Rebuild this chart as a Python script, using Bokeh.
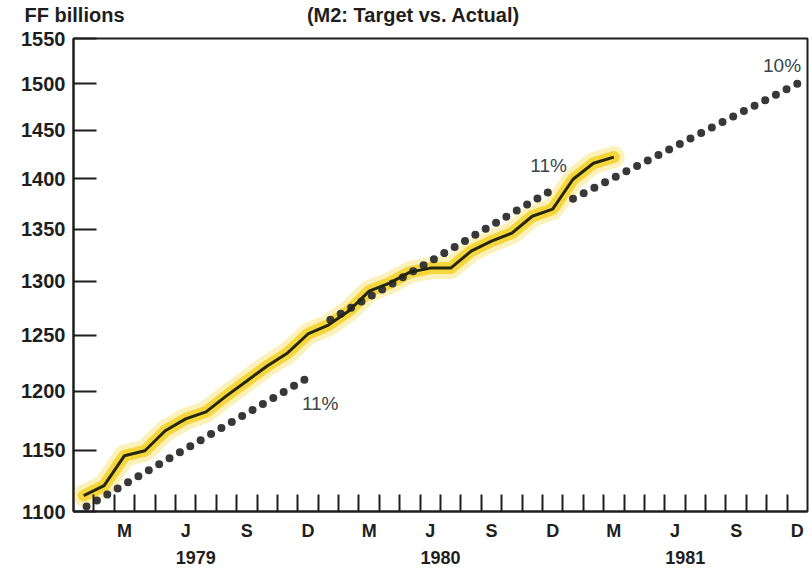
from bokeh.plotting import figure
from bokeh.models import LinearAxis, FixedTicker, Label, Range1d
from bokeh.embed import file_html
from bokeh.resources import INLINE

# ---------------- data ----------------
years = ["1979", "1980", "1981"]
quarter_month_labels = ["M", "J", "S", "D"]          # Mar, Jun, Sep, Dec
quarter_month_index = [2, 5, 8, 11]                  # month index within the year
y_ticks = [1100, 1150, 1200, 1250, 1300, 1350, 1400, 1450, 1500, 1550]

# actual M2, monthly, Jan 1979 .. Mar 1981 (FF billions)
actual_values = [1112.7, 1120.8, 1145.4, 1149.5, 1166.3, 1176.4, 1182.4, 1196.2,
                 1209.2, 1222.4, 1234.0, 1251.1,
                 1259.2, 1272.1, 1290.6, 1298.1, 1308.5, 1312.3, 1312.3, 1328.5,
                 1338.2, 1346.0, 1362.6, 1369.6,
                 1399.6, 1416.0, 1422.3]
actual_months = list(range(len(actual_values)))       # 0 = Jan 1979

# target corridors (start / end of each dotted line)
target_1979_x = [0.14, 11.0]
target_1979_y = [1104, 1212]
target_1980_x = [12.1, 22.9]
target_1980_y = [1264, 1388]
target_1981_x = [24.0, 35.0]
target_1981_y = [1380, 1500]
target_labels = ["11%", "11%", "10%"]

unit_text = "FF billions"
title_text = "(M2: Target vs. Actual)"

# ---------------- figure ----------------
FONT = "Liberation Sans"
INK = "#1e1e1e"

p = figure(width=812, height=575, output_backend="svg", toolbar_location=None,
           x_range=Range1d(-0.5, 35.5), y_range=Range1d(1100, 1550),
           y_axis_type="log", x_axis_type=None,
           min_border_left=73, min_border_right=5, min_border_top=37,
           min_border_bottom=64)
p.background_fill_color = "white"
p.border_fill_color = "white"
p.outline_line_color = INK
p.outline_line_width = 2
for g in p.grid:
    g.grid_line_color = None

# y axis
ya = p.yaxis[0]
ya.ticker = FixedTicker(ticks=y_ticks, minor_ticks=[])
ya.major_label_overrides = {v: str(v) for v in y_ticks}
ya.major_tick_in = 23
ya.major_tick_out = 0
ya.major_tick_line_width = 2
ya.major_tick_line_color = INK
ya.minor_tick_line_color = None
ya.axis_line_width = 2
ya.axis_line_color = INK
ya.major_label_standoff = 8
ya.major_label_text_font = FONT
ya.major_label_text_font_style = "bold"
ya.major_label_text_font_size = "20px"
ya.major_label_text_color = INK

# x axis: month ticks + quarter month letters
major_x = []
overrides = {}
for yi in range(len(years)):
    for lab, mi in zip(quarter_month_labels, quarter_month_index):
        t = yi * 12 + mi
        major_x.append(t)
        overrides[t] = lab
minor_x = [i + 0.5 for i in range(35)]

xa = LinearAxis(ticker=FixedTicker(ticks=major_x, minor_ticks=minor_x))
xa.major_label_overrides = overrides
xa.major_tick_line_color = None
xa.major_tick_in = 0
xa.major_tick_out = 0
xa.minor_tick_in = 17
xa.minor_tick_out = 0
xa.minor_tick_line_width = 2
xa.minor_tick_line_color = INK
xa.axis_line_width = 2
xa.axis_line_color = INK
xa.major_label_standoff = 9
xa.major_label_text_font = FONT
xa.major_label_text_font_style = "bold"
xa.major_label_text_font_size = "18px"
xa.major_label_text_color = INK
p.add_layout(xa, "below")

# year axis
year_ticks = [yi * 12 + 5.5 for yi in range(len(years))]
ya2 = LinearAxis(ticker=FixedTicker(ticks=year_ticks, minor_ticks=[]))
ya2.major_label_overrides = {t: y for t, y in zip(year_ticks, years)}
ya2.axis_line_color = None
ya2.major_tick_line_color = None
ya2.minor_tick_line_color = None
ya2.major_tick_in = 0
ya2.major_tick_out = 0
ya2.major_label_standoff = 7
ya2.major_label_text_font = FONT
ya2.major_label_text_font_style = "bold"
ya2.major_label_text_font_size = "18px"
ya2.major_label_text_color = INK
p.add_layout(ya2, "below")

# top header row (unit label at the left, chart title near the centre)
head_ticks = [-0.45, 16.17]
top = LinearAxis(ticker=FixedTicker(ticks=head_ticks, minor_ticks=[]))
top.major_label_overrides = {head_ticks[0]: unit_text, head_ticks[1]: title_text}
top.axis_line_color = None
top.major_tick_line_color = None
top.minor_tick_line_color = None
top.major_tick_in = 0
top.major_tick_out = 0
top.major_label_standoff = 13
top.major_label_text_font = FONT
top.major_label_text_font_style = "bold"
top.major_label_text_font_size = "20px"
top.major_label_text_color = INK
p.add_layout(top, "above")

# ---------------- glyphs ----------------
# yellow highlighter under the actual series
p.line(actual_months, actual_values, line_color="#f7d73a", line_alpha=0.35,
       line_width=22, line_join="round", line_cap="round")
p.line(actual_months, actual_values, line_color="#f3cc10", line_alpha=0.75,
       line_width=12, line_join="round", line_cap="round")

# dotted targets
DOT = "#383838"
for tx, ty in [(target_1979_x, target_1979_y),
               (target_1980_x, target_1980_y),
               (target_1981_x, target_1981_y)]:
    p.line(tx, ty, line_color=DOT, line_width=8, line_dash="0 12",
           line_cap="round")

# actual line
p.line(actual_months, actual_values, line_color="#26260f", line_width=3,
       line_join="round")

# ---------------- texts ----------------
lab_pos = [(11.6, 1190), (22.8, 1414), (34.25, 1520)]
for (lx, ly), t in zip(lab_pos, target_labels):
    p.add_layout(Label(x=lx, y=ly, text=t, text_align="center",
                       text_baseline="middle", text_font=FONT,
                       text_font_size="19px", text_color="#38434b"))

open("out.html", "w").write(file_html(p, INLINE))
